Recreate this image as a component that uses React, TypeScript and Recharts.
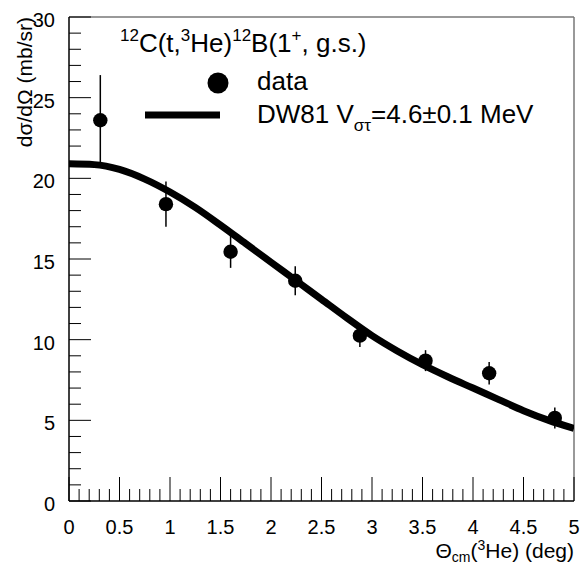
import React from "react";
import {
  ComposedChart,
  Scatter,
  Line,
  XAxis,
  YAxis,
  ErrorBar,
  ReferenceLine,
} from "recharts";

// measured points
const thetaData = [0.31, 0.96, 1.6, 2.24, 2.88, 3.53, 4.16, 4.81];
const sigmaData = [23.6, 18.4, 15.45, 13.65, 10.25, 8.7, 7.92, 5.15];
const sigmaErr = [2.8, 1.4, 1.0, 0.9, 0.7, 0.65, 0.7, 0.65];

// DW81 calculation
const curveTheta = [0, 0.25, 0.5, 0.75, 1, 1.25, 1.5, 1.75, 2, 2.25, 2.5, 2.75, 3, 3.25, 3.5, 3.75, 4, 4.25, 4.5, 4.75, 5];
const curveSigma = [20.9, 20.85, 20.55, 19.95, 19.15, 18.2, 17.1, 15.95, 14.8, 13.65, 12.5, 11.35, 10.25, 9.3, 8.45, 7.7, 7.0, 6.3, 5.6, 5.0, 4.5];

const xMajor = [0, 0.5, 1, 1.5, 2, 2.5, 3, 3.5, 4, 4.5, 5];
const yMajor = [0, 5, 10, 15, 20, 25, 30];

const xTicks: number[] = [];
for (let i = 0; i <= 50; i++) xTicks.push(i / 10);
const yTicks: number[] = [];
for (let i = 0; i <= 30; i++) yTicks.push(i);

const points = thetaData.map((x, i) => ({ x, y: sigmaData[i], err: sigmaErr[i] }));
const curve = curveTheta.map((x, i) => ({ x, fit: curveSigma[i] }));

const FONT = "'Liberation Sans', Arial, Helvetica, sans-serif";

const XTick = (props: any) => {
  const { x, y, payload } = props;
  const v = payload.value;
  const major = xMajor.some((m) => Math.abs(m - v) < 1e-6);
  return (
    <g>
      <line x1={x} x2={x} y1={y} y2={y - (major ? 24 : 12)} stroke="#000" strokeWidth={1} />
      {major && (
        <text x={x} y={y + 33} textAnchor="middle" fontSize={20} fontFamily={FONT} fill="#000">
          {v}
        </text>
      )}
    </g>
  );
};

const YTick = (props: any) => {
  const { x, y, payload } = props;
  const v = payload.value;
  const major = yMajor.includes(v);
  return (
    <g>
      <line x1={x} x2={x + (major ? 22 : 12)} y1={y} y2={y} stroke="#000" strokeWidth={1} />
      {major && (
        <text x={x - 14} y={y + 10} textAnchor="end" fontSize={20} fontFamily={FONT} fill="#000">
          {v}
        </text>
      )}
    </g>
  );
};

const Dot = (props: any) => {
  const { cx, cy } = props;
  return <circle cx={cx} cy={cy} r={7.2} fill="#000" />;
};

export default function App() {
  return (
    <div style={{ position: "absolute", left: 0, top: 0, background: "#fff" }}>
      <ComposedChart width={586} height={568} margin={{ top: 17, right: 12, bottom: 0, left: 0 }}>
        <XAxis
          type="number"
          dataKey="x"
          domain={[0, 5]}
          ticks={xTicks}
          interval={0}
          height={67}
          tickSize={0}
          tickMargin={0}
          tickLine={false}
          tick={<XTick />}
          axisLine={{ stroke: "#000", strokeWidth: 1.5 }}
          allowDataOverflow
        />
        <YAxis
          type="number"
          domain={[0, 30]}
          ticks={yTicks}
          interval={0}
          width={69}
          tickSize={0}
          tickMargin={0}
          tickLine={false}
          tick={<YTick />}
          axisLine={{ stroke: "#000", strokeWidth: 1.5 }}
          allowDataOverflow
        />
        <ReferenceLine y={30} stroke="#777" strokeWidth={1.5} />
        <ReferenceLine x={5} stroke="#777" strokeWidth={1.5} />
        <Line
          data={curve}
          dataKey="fit"
          type="monotone"
          stroke="#000"
          strokeWidth={7}
          dot={false}
          isAnimationActive={false}
        />
        <Scatter data={points} dataKey="y" shape={<Dot />} isAnimationActive={false}>
          <ErrorBar dataKey="err" direction="y" width={0} stroke="#000" strokeWidth={1.5} />
        </Scatter>

        <text x={120} y={52} fontSize={26} fontFamily={FONT} fill="#000">
          <tspan fontSize={17} dy={-11}>12</tspan>
          <tspan dy={11}>C(t,</tspan>
          <tspan fontSize={17} dy={-11}>3</tspan>
          <tspan dy={11}>He)</tspan>
          <tspan fontSize={17} dy={-11}>12</tspan>
          <tspan dy={11}>B(1</tspan>
          <tspan fontSize={17} dy={-11}>+</tspan>
          <tspan dy={11}>, g.s.)</tspan>
        </text>

        <circle cx={218} cy={83} r={10.5} fill="#000" />
        <text x={257} y={90} fontSize={26} fontFamily={FONT} fill="#000">data</text>
        <line x1={145} x2={220} y1={115} y2={115} stroke="#000" strokeWidth={7} />
        <text x={257} y={123} fontSize={26} fontFamily={FONT} fill="#000">
          DW81 V
          <tspan fontSize={17} dy={8}>στ</tspan>
          <tspan dy={-8}>=4.6±0.1 MeV</tspan>
        </text>

        <text
          transform="translate(32,17) rotate(-90)"
          textAnchor="end"
          fontSize={21}
          fontFamily={FONT}
          fill="#000"
        >
          dσ/dΩ (mb/sr)
        </text>
        <text x={574} y={558} textAnchor="end" fontSize={21} fontFamily={FONT} fill="#000">
          Θ
          <tspan fontSize={14} dy={4}>cm</tspan>
          <tspan dy={-4}>(</tspan>
          <tspan fontSize={14} dy={-8}>3</tspan>
          <tspan dy={8}>He) (deg)</tspan>
        </text>
      </ComposedChart>
    </div>
  );
}
